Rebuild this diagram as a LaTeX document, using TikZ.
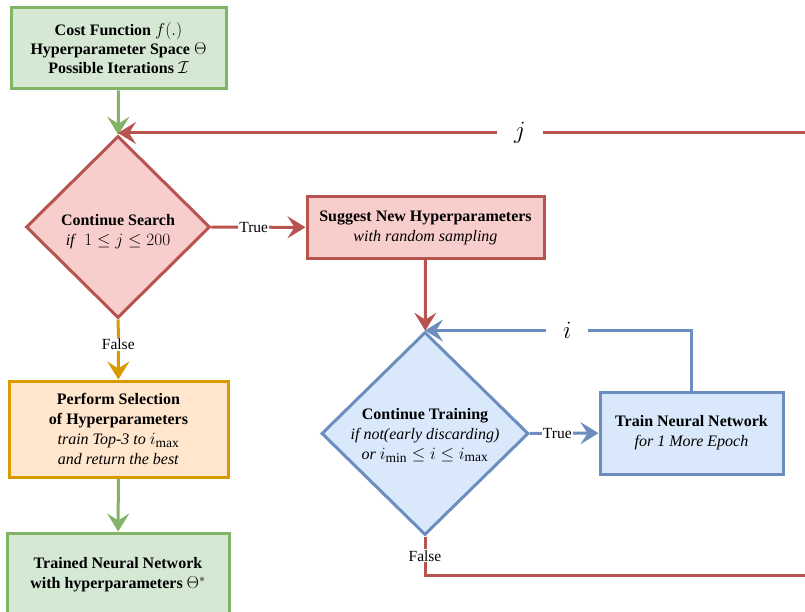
\documentclass[tikz,border=0pt]{standalone}
\usepackage{fontspec}
\setmainfont{Liberation Serif}
\usetikzlibrary{arrows.meta,shapes.geometric}
\DeclareMathSizes{16}{17.5}{13}{10}
\definecolor{gfill}{HTML}{D5E8D4}\definecolor{gline}{HTML}{82B366}
\definecolor{rfill}{HTML}{F8CECC}\definecolor{rline}{HTML}{B85450}
\definecolor{ofill}{HTML}{FFE6CC}\definecolor{oline}{HTML}{D79B00}
\definecolor{bfill}{HTML}{DAE8FC}\definecolor{bline}{HTML}{6C8EBF}
\newcommand{\subtxt}[1]{\mbox{\fontsize{13.5}{13.5}\selectfont$\mathrm{#1}$}}
\begin{document}
\begin{tikzpicture}[x=1pt,y=-1pt,
  every node/.style={font=\fontsize{16}{20}\selectfont, align=center, text=black},
  basebox/.style={draw, line width=3pt, rectangle, inner sep=2pt},
  greenbox/.style={basebox, draw=gline, fill=gfill},
  redbox/.style={basebox, draw=rline, fill=rfill},
  orangebox/.style={basebox, draw=oline, fill=ofill},
  bluebox/.style={basebox, draw=bline, fill=bfill},
  reddiamond/.style={diamond, draw=rline, fill=rfill, line width=3pt, inner sep=0pt, aspect=1},
  bluediamond/.style={diamond, draw=bline, fill=bfill, line width=3pt, inner sep=0pt, aspect=1},
  conn/.style={line width=3pt},
  arr/.style={conn, -{Stealth[length=18pt,width=22pt,inset=7pt]}},
  lbl/.style={fill=white, inner sep=1pt, font=\fontsize{15.5}{15.5}\selectfont},
  varlbl/.style={fill=white, inner xsep=17pt, inner ysep=4pt, font=\fontsize{24}{24}\selectfont},
]
\useasboundingbox (0,0) rectangle (805,612);

\node[greenbox, minimum width=215pt, minimum height=81pt] (input) at (118.5,48.5)
  {\textbf{Cost Function} $f(.)$\\[-1pt]\textbf{Hyperparameter Space} $\Theta$\\[-1pt]\textbf{Possible Iterations} $\mathcal{I}$};

\node[reddiamond, minimum width=184pt, minimum height=182pt] (search) at (118,227)
  {\raisebox{-9pt}[0pt][0pt]{\parbox{150pt}{\centering\textbf{Continue Search}\\\textit{if}\ \ $1\le j\le 200$}}};

\node[redbox, minimum width=237pt, minimum height=61pt] (suggest) at (425.5,227.5)
  {\textbf{Suggest New Hyperparameters}\\\textit{with random sampling}};

\node[bluediamond, minimum width=207pt, minimum height=203pt] (training) at (425,433.5)
  {\raisebox{-6pt}[0pt][0pt]{\parbox{190pt}{\centering\textbf{Continue Training}\\\textit{if not(early discarding)}\\\textit{or} $i_{\subtxt{min}}\le i\le i_{\subtxt{max}}$}}};

\node[bluebox, minimum width=183pt, minimum height=82pt] (train) at (691.5,433)
  {\textbf{Train Neural Network}\\\textit{for 1 More Epoch}};

\node[orangebox, minimum width=219pt, minimum height=96pt] (select) at (118.5,429)
  {\textbf{Perform Selection}\\\textbf{of Hyperparameters}\\\textit{train Top-3 to} $i_{\subtxt{max}}$\\\textit{and return the best}};

\node[greenbox, minimum width=222pt, minimum height=84pt] (result) at (118,575)
  {\textbf{Trained Neural Network}\\\textbf{with hyperparameters} $\Theta^{*}$};

\coordinate (jin) at (805,133);
\coordinate (fout) at (805,575);

\draw[arr, gline] (input) -- (search);
\draw[arr, rline] (jin) -- node[pos=0.415, varlbl]{$j$} (jin -| search.north);
\draw[arr, rline] (search) -- node[lbl, pos=0.45]{True} (suggest);
\draw[arr, oline] (search) -- node[lbl, pos=0.42]{False} (select);
\draw[arr, gline] (select) -- (result);
\draw[arr, rline] (suggest) -- (training);
\draw[arr, bline] (training) -- node[lbl, pos=0.4]{True} (train);
\draw[arr, bline] (train.north) |- node[pos=0.733, varlbl]{$i$} (training.north);
\draw[conn, rline] (training.south) |- node[pos=0.25, lbl]{False} (fout);
\end{tikzpicture}
\end{document}
